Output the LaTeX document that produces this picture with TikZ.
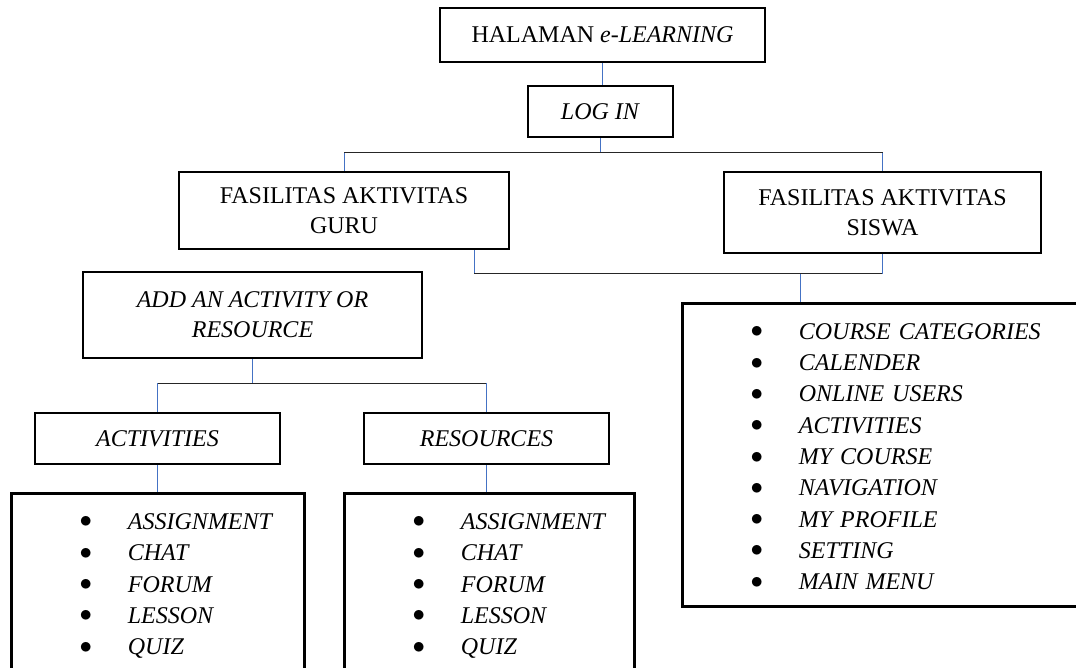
\documentclass[tikz,border=0pt]{standalone}
\usepackage{fontspec}
\setmainfont{Liberation Serif}
\usepackage{tikz}
\usetikzlibrary{positioning}
\definecolor{lineblue}{RGB}{68,114,196}

\newcommand{\itm}[1]{\hspace*{53.2pt}\makebox[48.3pt][l]{\raisebox{1.5pt}{$\bullet$}}\textit{#1}}

\tikzstyle{titlebox} = [rectangle,
draw=black,
line width=2.8pt,
inner sep=0pt,
align=center,
font=\fontsize{24}{30}\selectfont]
\tikzstyle{listbox} = [rectangle,
draw=black,
line width=2.8pt,
anchor=north west,
inner xsep=15pt,
inner ysep=0pt,
align=left,
text height=36pt,
font=\fontsize{24}{31.3}\selectfont]
\tikzstyle{vline} = [lineblue, line width=1pt]
\tikzstyle{hline} = [black!85, line width=1pt]

\begin{document}
\begin{tikzpicture}[x=1pt, y=-1pt]
\useasboundingbox (0,0) rectangle (1076,668);
\clip (0,0) rectangle (1076,668);

\node (halaman) [titlebox, minimum width=325pt, minimum height=54pt] at (602.5,35) {HALAMAN \textit{e-LEARNING}};
\node (login) [titlebox, minimum width=145pt, minimum height=51pt] at (600.5,111.5) {\textit{LOG IN}};
\node (guru) [titlebox, minimum width=330pt, minimum height=77pt] at (344,210.5) {FASILITAS AKTIVITAS\\GURU};
\node (siswa) [titlebox, minimum width=317pt, minimum height=81pt] at (882.5,212.5) {FASILITAS AKTIVITAS\\SISWA};
\node (add) [titlebox, minimum width=339pt, minimum height=86pt] at (252.5,315) {\textit{ADD AN ACTIVITY OR}\\\textit{RESOURCE}};
\node (activities) [titlebox, minimum width=245pt, minimum height=51pt] at (157.5,438.5) {\textit{ACTIVITIES}};
\node (resources) [titlebox, minimum width=245pt, minimum height=51pt] at (486.5,438.5) {\textit{RESOURCES}};

\node (siswalist) [listbox, text width=379pt, text depth=267pt] at (681,302) {\itm{COURSE CATEGORIES}\\
\itm{CALENDER}\\
\itm{ONLINE USERS}\\
\itm{ACTIVITIES}\\
\itm{MY COURSE}\\
\itm{NAVIGATION}\\
\itm{MY PROFILE}\\
\itm{SETTING}\\
\itm{MAIN MENU}};
\node (actlist) [listbox, text width=263pt, text depth=165pt] at (10,492) {\itm{ASSIGNMENT}\\
\itm{CHAT}\\
\itm{FORUM}\\
\itm{LESSON}\\
\itm{QUIZ}};
\node (reslist) [listbox, text width=260pt, text depth=165pt] at (343,492) {\itm{ASSIGNMENT}\\
\itm{CHAT}\\
\itm{FORUM}\\
\itm{LESSON}\\
\itm{QUIZ}};

% branch points
\coordinate (fork1) at (601,153);
\coordinate (fork2) at (474,274);
\coordinate (fork3) at (252.5,383);
\coordinate (drop) at (800,274);

\draw [vline] (halaman.south) -- (halaman.south |- login.north);
\draw [vline] (login.south) -- (login.south |- fork1);
\draw [hline] (guru.north |- fork1) -- (siswa.north |- fork1);
\draw [vline] (guru.north |- fork1) -- (guru.north);
\draw [vline] (siswa.north |- fork1) -- (siswa.north);

\draw [vline] (guru.south -| fork2) -- (fork2);
\draw [hline] (fork2) -- (siswa.south |- fork2);
\draw [vline] (siswa.south) -- (siswa.south |- fork2);
\draw [vline] (drop) -- (drop |- siswalist.north);

\draw [vline] (add.south) -- (fork3);
\draw [hline] (activities.north |- fork3) -- (resources.north |- fork3);
\draw [vline] (activities.north |- fork3) -- (activities.north);
\draw [vline] (resources.north |- fork3) -- (resources.north);
\draw [vline] (activities.south) -- (activities.south |- actlist.north);
\draw [vline] (resources.south) -- (resources.south |- reslist.north);

\end{tikzpicture}
\end{document}
